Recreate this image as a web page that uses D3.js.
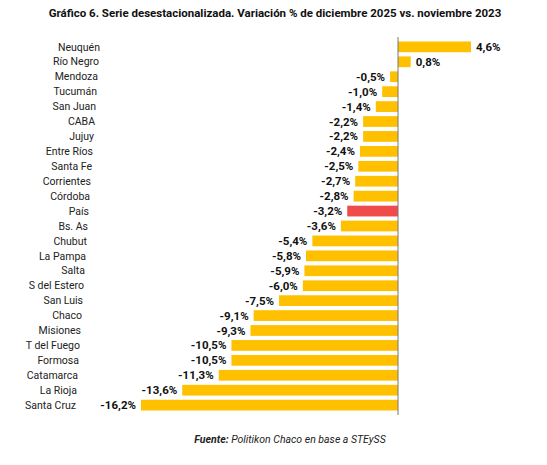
<!DOCTYPE html>
<html><head><meta charset="utf-8">
<script src="https://cdn.jsdelivr.net/npm/d3@7"></script>
<style>body{margin:0;background:#fff}</style>
</head><body>
<script>
const provinces = ["Neuquén","Río Negro","Mendoza","Tucumán","San Juan","CABA","Jujuy","Entre Ríos","Santa Fe","Corrientes","Córdoba","País","Bs. As","Chubut","La Pampa","Salta","S del Estero","San Luis","Chaco","Misiones","T del Fuego","Formosa","Catamarca","La Rioja","Santa Cruz"];
const values = [4.6,0.8,-0.5,-1.0,-1.4,-2.2,-2.2,-2.4,-2.5,-2.7,-2.8,-3.2,-3.6,-5.4,-5.8,-5.9,-6.0,-7.5,-9.1,-9.3,-10.5,-10.5,-11.3,-13.6,-16.2];
const highlight = "País";

const width = 547, height = 465;
const margin = {top: 40, bottom: 53};
const svg = d3.select("body").append("svg").attr("width", width).attr("height", height)
  .style("font-family", "Roboto, 'Liberation Sans', sans-serif");

const x = d3.scaleLinear().domain([-16.2, 4.6]).range([141, 471]);
const y = d3.scaleBand().domain(provinces).range([margin.top, height - margin.bottom]).paddingInner(0.28).paddingOuter(0.1);
// category labels drift left towards the bottom, as in the original
const labelX = d3.scaleLinear().domain([0, provinces.length - 1]).range([100, 76]);
const fmt = v => d3.format(".1f")(v).replace(".", ",").replace("−", "-") + "%";

svg.append("text").attr("x", 275).attr("y", 17).attr("text-anchor", "middle")
  .attr("font-size", 11.5).attr("font-weight", "bold").attr("fill", "#111")
  .text("Gráfico 6. Serie desestacionalizada. Variación % de diciembre 2025 vs. noviembre 2023");

const row = svg.append("g").selectAll("g").data(provinces).join("g");
row.append("rect")
  .attr("x", (d, i) => x(Math.min(0, values[i])))
  .attr("y", d => y(d))
  .attr("width", (d, i) => Math.abs(x(values[i]) - x(0)))
  .attr("height", y.bandwidth())
  .attr("fill", d => d === highlight ? "#f04a4a" : "#ffc000");
row.append("text").attr("x", (d, i) => labelX(i)).attr("y", d => y(d) + y.bandwidth() / 2).attr("dy", "0.35em")
  .attr("text-anchor", "end").attr("font-size", 10.5).attr("fill", "#222").text(d => d);
row.append("text")
  .attr("x", (d, i) => values[i] < 0 ? x(values[i]) - 5 : x(values[i]) + 5)
  .attr("y", d => y(d) + y.bandwidth() / 2).attr("dy", "0.35em")
  .attr("text-anchor", (d, i) => values[i] < 0 ? "end" : "start")
  .attr("font-size", 11.5).attr("font-weight", "bold").attr("fill", "#111")
  .text((d, i) => fmt(values[i]));

svg.append("line").attr("x1", x(0)).attr("x2", x(0)).attr("y1", 37).attr("y2", 415)
  .attr("stroke", "#777").attr("stroke-width", 1);

const foot = svg.append("text").attr("x", 290).attr("y", 443).attr("text-anchor", "middle")
  .attr("font-size", 10.5).attr("font-style", "italic").attr("fill", "#222");
foot.append("tspan").attr("font-weight", "bold").text("Fuente: ");
foot.append("tspan").text("Politikon Chaco en base a STEySS");
</script>
</body></html>
